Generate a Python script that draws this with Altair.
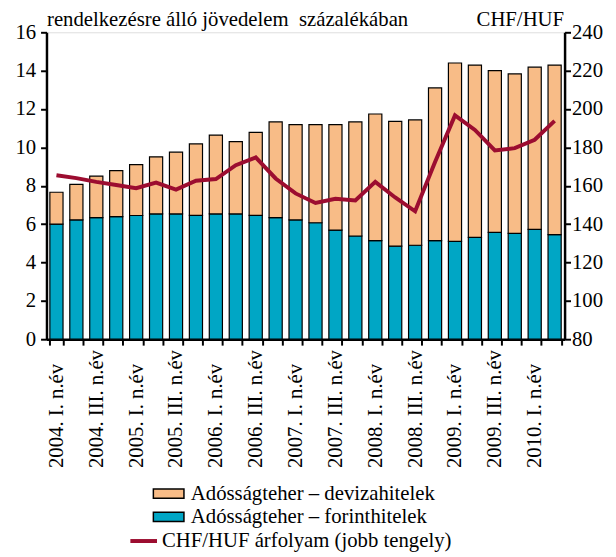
import altair as alt
import pandas as pd

years = ["2004", "2005", "2006", "2007", "2008", "2009", "2010"]
quarter_names = ["I.", "II.", "III.", "IV."]
quarters = [f"{y}. {q} n.év" for y in years for q in quarter_names][:26]

forint = [6.00, 6.22, 6.34, 6.39, 6.45, 6.53, 6.53, 6.46, 6.53, 6.53, 6.46, 6.34, 6.22,
          6.07, 5.69, 5.38, 5.14, 4.85, 4.90, 5.14, 5.10, 5.31, 5.57, 5.52, 5.73, 5.45]
deviza = [1.66, 1.85, 2.16, 2.40, 2.65, 2.98, 3.22, 3.72, 4.11, 3.77, 4.32, 4.99, 4.97,
          5.12, 5.50, 5.95, 6.60, 6.51, 6.53, 7.96, 9.30, 8.98, 8.43, 8.31, 8.45, 8.84]
chf = [165.5, 164.0, 162.0, 160.4, 158.7, 161.6, 158.0, 162.6, 163.5, 170.7, 174.8, 163.8, 156.0,
       151.0, 153.2, 152.3, 162.0, 153.9, 146.7, 172.4, 196.7, 189.1, 178.4, 179.6, 184.0, 193.8]

s_dev = "Adósságteher – devizahitelek"
s_for = "Adósságteher – forinthitelek"
s_chf = "CHF/HUF árfolyam (jobb tengely)"

bars = pd.DataFrame(
    [{"q": q, "series": s_for, "v": f, "ord": 0} for q, f in zip(quarters, forint)]
    + [{"q": q, "series": s_dev, "v": d, "ord": 1} for q, d in zip(quarters, deviza)]
)
line = pd.DataFrame({"q": quarters, "chf": chf, "series": s_chf})

FONT = "Liberation Serif"
FS = 21

x_enc = alt.X(
    "q:N", sort=quarters, title=None,
    scale=alt.Scale(paddingInner=0.34, paddingOuter=0.17),
    axis=alt.Axis(
        labelAngle=270, labelAlign="left", labelBaseline="middle",
        labelPadding=124, tickSize=6, tickBand="extent", tickWidth=2,
        domainWidth=2.5, domainColor="black", tickColor="black",
        labelFont=FONT, labelFontSize=FS, labelColor="black",
        labelExpr="test(/ (II|IV)\\. /, datum.label) ? '' : datum.label",
        labelOverlap=False, labelFlush=False,
    ),
)

bar_layer = alt.Chart(bars).mark_bar(stroke="black", strokeWidth=1.2).encode(
    x=x_enc,
    y=alt.Y(
        "v:Q", stack="zero",
        scale=alt.Scale(domain=[0, 16], nice=False),
        axis=alt.Axis(
            orient="left", values=[0, 2, 4, 6, 8, 10, 12, 14, 16], grid=False,
            tickSize=6, tickWidth=2, domainWidth=2.5, domainColor="black", tickColor="black",
            labelFont=FONT, labelFontSize=FS, labelColor="black", labelPadding=5,
            title="rendelkezésre álló jövedelem\u00a0 százalékában",
            titleAngle=0, titleX=0, titleY=-7, titleAlign="left", titleBaseline="alphabetic",
            titleFont=FONT, titleFontSize=FS, titleFontWeight="normal", titleColor="black",
        ),
    ),
    color=alt.Color(
        "series:N",
        scale=alt.Scale(domain=[s_dev, s_for], range=["#F8BC87", "#00A6C5"]),
        legend=alt.Legend(
            title=None, orient="none", legendX=113.3, legendY=457, padding=0,
            symbolType="M-2.5,-0.75H2.5V0.75H-2.5Z", symbolSize=153.76,
            symbolStrokeColor="black", symbolStrokeWidth=1.5, symbolOpacity=1,
            labelOffset=12, rowPadding=1.5,
            labelFont=FONT, labelFontSize=FS, labelColor="black", labelLimit=400,
        ),
    ),
    order=alt.Order("ord:Q"),
)

line_layer = alt.Chart(line).mark_line(strokeWidth=4, strokeJoin="miter").encode(
    x=alt.X("q:N", sort=quarters),
    y=alt.Y(
        "chf:Q",
        scale=alt.Scale(domain=[80, 240], nice=False),
        axis=alt.Axis(
            orient="right", values=[80, 100, 120, 140, 160, 180, 200, 220, 240], grid=False,
            tickSize=6, tickWidth=2, domainWidth=2.5, domainColor="black", tickColor="black",
            labelFont=FONT, labelFontSize=FS, labelColor="black", labelPadding=1,
            title="CHF/HUF",
            titleAngle=0, titleX=-1, titleY=-7, titleAlign="right", titleBaseline="alphabetic",
            titleFont=FONT, titleFontSize=FS, titleFontWeight="normal", titleColor="black",
        ),
    ),
    stroke=alt.Stroke(
        "series:N",
        scale=alt.Scale(domain=[s_chf], range=["#9C0D30"]),
        legend=alt.Legend(
            title=None, orient="none", legendX=83, legendY=500, padding=0,
            symbolType="stroke", symbolSize=729, symbolStrokeWidth=4,
            labelOffset=3,
            labelFont=FONT, labelFontSize=FS, labelColor="black", labelLimit=400,
        ),
    ),
)

chart = (
    alt.layer(bar_layer, line_layer)
    .resolve_scale(y="independent", color="independent", stroke="independent")
    .properties(
        width=525, height=311,
        autosize=alt.AutoSizeParams(type="none"),
        padding={"left": 39, "top": 21, "right": 44, "bottom": 212},
    )
    .configure_view(stroke=None)
    .configure(background="white")
)

chart.save("out.html", embed_options={"renderer": "svg", "actions": False})
